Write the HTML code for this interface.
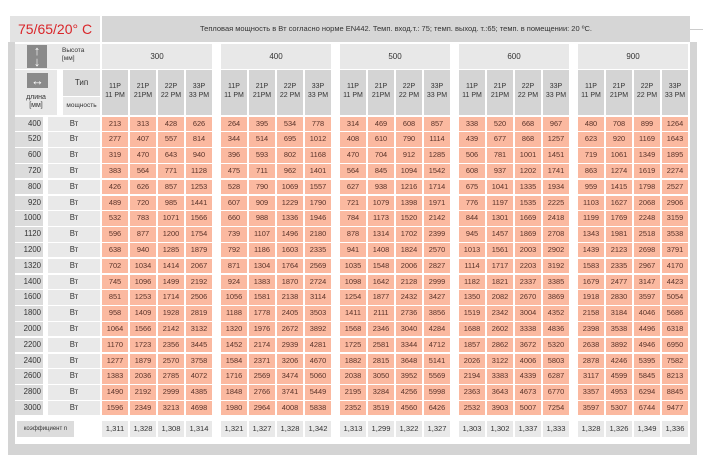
<!DOCTYPE html>
<html><head><meta charset="utf-8">
<style>
*{margin:0;padding:0;box-sizing:border-box}
body{width:703px;height:455px;background:#fff;position:relative;overflow:hidden;font-family:"Liberation Sans",sans-serif;color:#333}
.a{position:absolute}
.r{position:absolute;left:0;height:14.5px;display:flex;font-size:7.4px}
.r div{height:14.5px;line-height:14.5px;text-align:center}
.l{margin-left:15px;width:28px;background:#dcdcdc;text-align:right!important;padding-right:2px;font-size:7.8px}
.w{margin-left:5px;width:52px;background:#e9e9e9;font-size:7.8px}
.r .d{margin-left:2px;width:26px;background:#fbb9a0;color:#5a3329}
.r .g{margin-left:9px}
.c{position:absolute;top:421px;left:0;height:16px;display:flex;font-size:7.6px}
.c div{height:16px;line-height:16px;text-align:center;background:#e9e9e9;margin-left:2px;width:26px}
.c .g{margin-left:9px}
.hd{position:absolute;top:70px;height:45px;width:26px;background:#d4d4d4;font-size:7px;text-align:center;padding-top:12px;line-height:9px}
.gh{position:absolute;top:44px;height:25px;width:110px;background:#e8e8e8;font-size:8px;text-align:center;line-height:25px}
</style></head><body>
<div class="a" style="left:8px;top:42px;width:689px;height:413px;background:#d4d4d4"></div>
<div class="a" style="left:15px;top:42px;width:675px;height:402px;background:#fff"></div>
<div class="a" style="left:10px;top:16px;width:90px;height:26px;background:#e3e3e3;color:#d9262a;font-size:14px;line-height:26px;padding-left:8px">75/65/20° C</div>
<div class="a" style="left:102px;top:16px;width:588px;height:26px;background:#d6d6d6;font-size:7.5px;line-height:26px;text-align:center;color:#333">Тепловая мощность в Вт согласно норме EN442. Темп. вход.т.: 75; темп. выход. т.:65; темп. в помещении: 20 ºC.</div>
<div class="a" style="left:690px;top:29px;width:13px;height:1px;background:#ccc"></div>
<div class="a" style="left:15px;top:44px;width:85px;height:25px;background:#e8e8e8"></div>
<div class="a" style="left:27px;top:45px;width:20px;height:23px;background:#8a8a8a;color:#fff;font-size:13px;font-weight:bold;text-align:center;line-height:11px">↑<br>↓</div>
<div class="a" style="left:62px;top:47px;font-size:6.5px;line-height:8px">Высота<br>[мм]</div>
<div class="a" style="left:15px;top:70px;width:42px;height:45px;background:#e8e8e8"></div>
<div class="a" style="left:27px;top:73px;width:21px;height:15px;background:#8a8a8a;color:#fff;font-size:13px;text-align:center;line-height:15px;font-weight:bold">↔</div>
<div class="a" style="left:15px;top:94px;width:42px;font-size:7px;line-height:8px;text-align:center">длина<br>[мм]</div>
<div class="a" style="left:63px;top:70px;width:37px;height:26px;background:#dcdcdc;font-size:8px;text-align:center;line-height:26px">Тип</div>
<div class="a" style="left:63px;top:97px;width:37px;height:18px;background:#e9e9e9;font-size:6.5px;text-align:center;line-height:18px">мощность</div>
<div class="gh" style="left:102px">300</div><div class="gh" style="left:221px">400</div><div class="gh" style="left:340px">500</div><div class="gh" style="left:459px">600</div><div class="gh" style="left:578px">900</div>
<div class="hd" style="left:102px">11P<br>11 PM</div><div class="hd" style="left:130px">21P<br>21PM</div><div class="hd" style="left:158px">22P<br>22 PM</div><div class="hd" style="left:186px">33P<br>33 PM</div>
<div class="hd" style="left:221px">11P<br>11 PM</div><div class="hd" style="left:249px">21P<br>21PM</div><div class="hd" style="left:277px">22P<br>22 PM</div><div class="hd" style="left:305px">33P<br>33 PM</div>
<div class="hd" style="left:340px">11P<br>11 PM</div><div class="hd" style="left:368px">21P<br>21PM</div><div class="hd" style="left:396px">22P<br>22 PM</div><div class="hd" style="left:424px">33P<br>33 PM</div>
<div class="hd" style="left:459px">11P<br>11 PM</div><div class="hd" style="left:487px">21P<br>21PM</div><div class="hd" style="left:515px">22P<br>22 PM</div><div class="hd" style="left:543px">33P<br>33 PM</div>
<div class="hd" style="left:578px">11P<br>11 PM</div><div class="hd" style="left:606px">21P<br>21PM</div><div class="hd" style="left:634px">22P<br>22 PM</div><div class="hd" style="left:662px">33P<br>33 PM</div>

<div class="r" style="top:116.5px"><div class="l">400</div><div class="w">Вт</div><div class="d">213</div><div class="d">313</div><div class="d">428</div><div class="d">626</div><div class="d g">264</div><div class="d">395</div><div class="d">534</div><div class="d">778</div><div class="d g">314</div><div class="d">469</div><div class="d">608</div><div class="d">857</div><div class="d g">338</div><div class="d">520</div><div class="d">668</div><div class="d">967</div><div class="d g">480</div><div class="d">708</div><div class="d">899</div><div class="d">1264</div></div>
<div class="r" style="top:132.3px"><div class="l">520</div><div class="w">Вт</div><div class="d">277</div><div class="d">407</div><div class="d">557</div><div class="d">814</div><div class="d g">344</div><div class="d">514</div><div class="d">695</div><div class="d">1012</div><div class="d g">408</div><div class="d">610</div><div class="d">790</div><div class="d">1114</div><div class="d g">439</div><div class="d">677</div><div class="d">868</div><div class="d">1257</div><div class="d g">623</div><div class="d">920</div><div class="d">1169</div><div class="d">1643</div></div>
<div class="r" style="top:148.1px"><div class="l">600</div><div class="w">Вт</div><div class="d">319</div><div class="d">470</div><div class="d">643</div><div class="d">940</div><div class="d g">396</div><div class="d">593</div><div class="d">802</div><div class="d">1168</div><div class="d g">470</div><div class="d">704</div><div class="d">912</div><div class="d">1285</div><div class="d g">506</div><div class="d">781</div><div class="d">1001</div><div class="d">1451</div><div class="d g">719</div><div class="d">1061</div><div class="d">1349</div><div class="d">1895</div></div>
<div class="r" style="top:163.9px"><div class="l">720</div><div class="w">Вт</div><div class="d">383</div><div class="d">564</div><div class="d">771</div><div class="d">1128</div><div class="d g">475</div><div class="d">711</div><div class="d">962</div><div class="d">1401</div><div class="d g">564</div><div class="d">845</div><div class="d">1094</div><div class="d">1542</div><div class="d g">608</div><div class="d">937</div><div class="d">1202</div><div class="d">1741</div><div class="d g">863</div><div class="d">1274</div><div class="d">1619</div><div class="d">2274</div></div>
<div class="r" style="top:179.7px"><div class="l">800</div><div class="w">Вт</div><div class="d">426</div><div class="d">626</div><div class="d">857</div><div class="d">1253</div><div class="d g">528</div><div class="d">790</div><div class="d">1069</div><div class="d">1557</div><div class="d g">627</div><div class="d">938</div><div class="d">1216</div><div class="d">1714</div><div class="d g">675</div><div class="d">1041</div><div class="d">1335</div><div class="d">1934</div><div class="d g">959</div><div class="d">1415</div><div class="d">1798</div><div class="d">2527</div></div>
<div class="r" style="top:195.5px"><div class="l">920</div><div class="w">Вт</div><div class="d">489</div><div class="d">720</div><div class="d">985</div><div class="d">1441</div><div class="d g">607</div><div class="d">909</div><div class="d">1229</div><div class="d">1790</div><div class="d g">721</div><div class="d">1079</div><div class="d">1398</div><div class="d">1971</div><div class="d g">776</div><div class="d">1197</div><div class="d">1535</div><div class="d">2225</div><div class="d g">1103</div><div class="d">1627</div><div class="d">2068</div><div class="d">2906</div></div>
<div class="r" style="top:211.3px"><div class="l">1000</div><div class="w">Вт</div><div class="d">532</div><div class="d">783</div><div class="d">1071</div><div class="d">1566</div><div class="d g">660</div><div class="d">988</div><div class="d">1336</div><div class="d">1946</div><div class="d g">784</div><div class="d">1173</div><div class="d">1520</div><div class="d">2142</div><div class="d g">844</div><div class="d">1301</div><div class="d">1669</div><div class="d">2418</div><div class="d g">1199</div><div class="d">1769</div><div class="d">2248</div><div class="d">3159</div></div>
<div class="r" style="top:227.1px"><div class="l">1120</div><div class="w">Вт</div><div class="d">596</div><div class="d">877</div><div class="d">1200</div><div class="d">1754</div><div class="d g">739</div><div class="d">1107</div><div class="d">1496</div><div class="d">2180</div><div class="d g">878</div><div class="d">1314</div><div class="d">1702</div><div class="d">2399</div><div class="d g">945</div><div class="d">1457</div><div class="d">1869</div><div class="d">2708</div><div class="d g">1343</div><div class="d">1981</div><div class="d">2518</div><div class="d">3538</div></div>
<div class="r" style="top:242.9px"><div class="l">1200</div><div class="w">Вт</div><div class="d">638</div><div class="d">940</div><div class="d">1285</div><div class="d">1879</div><div class="d g">792</div><div class="d">1186</div><div class="d">1603</div><div class="d">2335</div><div class="d g">941</div><div class="d">1408</div><div class="d">1824</div><div class="d">2570</div><div class="d g">1013</div><div class="d">1561</div><div class="d">2003</div><div class="d">2902</div><div class="d g">1439</div><div class="d">2123</div><div class="d">2698</div><div class="d">3791</div></div>
<div class="r" style="top:258.7px"><div class="l">1320</div><div class="w">Вт</div><div class="d">702</div><div class="d">1034</div><div class="d">1414</div><div class="d">2067</div><div class="d g">871</div><div class="d">1304</div><div class="d">1764</div><div class="d">2569</div><div class="d g">1035</div><div class="d">1548</div><div class="d">2006</div><div class="d">2827</div><div class="d g">1114</div><div class="d">1717</div><div class="d">2203</div><div class="d">3192</div><div class="d g">1583</div><div class="d">2335</div><div class="d">2967</div><div class="d">4170</div></div>
<div class="r" style="top:274.5px"><div class="l">1400</div><div class="w">Вт</div><div class="d">745</div><div class="d">1096</div><div class="d">1499</div><div class="d">2192</div><div class="d g">924</div><div class="d">1383</div><div class="d">1870</div><div class="d">2724</div><div class="d g">1098</div><div class="d">1642</div><div class="d">2128</div><div class="d">2999</div><div class="d g">1182</div><div class="d">1821</div><div class="d">2337</div><div class="d">3385</div><div class="d g">1679</div><div class="d">2477</div><div class="d">3147</div><div class="d">4423</div></div>
<div class="r" style="top:290.3px"><div class="l">1600</div><div class="w">Вт</div><div class="d">851</div><div class="d">1253</div><div class="d">1714</div><div class="d">2506</div><div class="d g">1056</div><div class="d">1581</div><div class="d">2138</div><div class="d">3114</div><div class="d g">1254</div><div class="d">1877</div><div class="d">2432</div><div class="d">3427</div><div class="d g">1350</div><div class="d">2082</div><div class="d">2670</div><div class="d">3869</div><div class="d g">1918</div><div class="d">2830</div><div class="d">3597</div><div class="d">5054</div></div>
<div class="r" style="top:306.1px"><div class="l">1800</div><div class="w">Вт</div><div class="d">958</div><div class="d">1409</div><div class="d">1928</div><div class="d">2819</div><div class="d g">1188</div><div class="d">1778</div><div class="d">2405</div><div class="d">3503</div><div class="d g">1411</div><div class="d">2111</div><div class="d">2736</div><div class="d">3856</div><div class="d g">1519</div><div class="d">2342</div><div class="d">3004</div><div class="d">4352</div><div class="d g">2158</div><div class="d">3184</div><div class="d">4046</div><div class="d">5686</div></div>
<div class="r" style="top:321.9px"><div class="l">2000</div><div class="w">Вт</div><div class="d">1064</div><div class="d">1566</div><div class="d">2142</div><div class="d">3132</div><div class="d g">1320</div><div class="d">1976</div><div class="d">2672</div><div class="d">3892</div><div class="d g">1568</div><div class="d">2346</div><div class="d">3040</div><div class="d">4284</div><div class="d g">1688</div><div class="d">2602</div><div class="d">3338</div><div class="d">4836</div><div class="d g">2398</div><div class="d">3538</div><div class="d">4496</div><div class="d">6318</div></div>
<div class="r" style="top:337.7px"><div class="l">2200</div><div class="w">Вт</div><div class="d">1170</div><div class="d">1723</div><div class="d">2356</div><div class="d">3445</div><div class="d g">1452</div><div class="d">2174</div><div class="d">2939</div><div class="d">4281</div><div class="d g">1725</div><div class="d">2581</div><div class="d">3344</div><div class="d">4712</div><div class="d g">1857</div><div class="d">2862</div><div class="d">3672</div><div class="d">5320</div><div class="d g">2638</div><div class="d">3892</div><div class="d">4946</div><div class="d">6950</div></div>
<div class="r" style="top:353.5px"><div class="l">2400</div><div class="w">Вт</div><div class="d">1277</div><div class="d">1879</div><div class="d">2570</div><div class="d">3758</div><div class="d g">1584</div><div class="d">2371</div><div class="d">3206</div><div class="d">4670</div><div class="d g">1882</div><div class="d">2815</div><div class="d">3648</div><div class="d">5141</div><div class="d g">2026</div><div class="d">3122</div><div class="d">4006</div><div class="d">5803</div><div class="d g">2878</div><div class="d">4246</div><div class="d">5395</div><div class="d">7582</div></div>
<div class="r" style="top:369.3px"><div class="l">2600</div><div class="w">Вт</div><div class="d">1383</div><div class="d">2036</div><div class="d">2785</div><div class="d">4072</div><div class="d g">1716</div><div class="d">2569</div><div class="d">3474</div><div class="d">5060</div><div class="d g">2038</div><div class="d">3050</div><div class="d">3952</div><div class="d">5569</div><div class="d g">2194</div><div class="d">3383</div><div class="d">4339</div><div class="d">6287</div><div class="d g">3117</div><div class="d">4599</div><div class="d">5845</div><div class="d">8213</div></div>
<div class="r" style="top:385.1px"><div class="l">2800</div><div class="w">Вт</div><div class="d">1490</div><div class="d">2192</div><div class="d">2999</div><div class="d">4385</div><div class="d g">1848</div><div class="d">2766</div><div class="d">3741</div><div class="d">5449</div><div class="d g">2195</div><div class="d">3284</div><div class="d">4256</div><div class="d">5998</div><div class="d g">2363</div><div class="d">3643</div><div class="d">4673</div><div class="d">6770</div><div class="d g">3357</div><div class="d">4953</div><div class="d">6294</div><div class="d">8845</div></div>
<div class="r" style="top:400.9px"><div class="l">3000</div><div class="w">Вт</div><div class="d">1596</div><div class="d">2349</div><div class="d">3213</div><div class="d">4698</div><div class="d g">1980</div><div class="d">2964</div><div class="d">4008</div><div class="d">5838</div><div class="d g">2352</div><div class="d">3519</div><div class="d">4560</div><div class="d">6426</div><div class="d g">2532</div><div class="d">3903</div><div class="d">5007</div><div class="d">7254</div><div class="d g">3597</div><div class="d">5307</div><div class="d">6744</div><div class="d">9477</div></div>

<div class="a" style="left:17px;top:421px;width:57px;height:16px;background:#dcdcdc;font-size:6px;line-height:16px;text-align:center">коэффициент n</div>
<div class="c" style="left:100px"><div>1,311</div><div>1,328</div><div>1,308</div><div>1,314</div><div class="g">1,321</div><div>1,327</div><div>1,328</div><div>1,342</div><div class="g">1,313</div><div>1,299</div><div>1,322</div><div>1,327</div><div class="g">1,303</div><div>1,302</div><div>1,337</div><div>1,333</div><div class="g">1,328</div><div>1,326</div><div>1,349</div><div>1,336</div></div>
</body></html>
